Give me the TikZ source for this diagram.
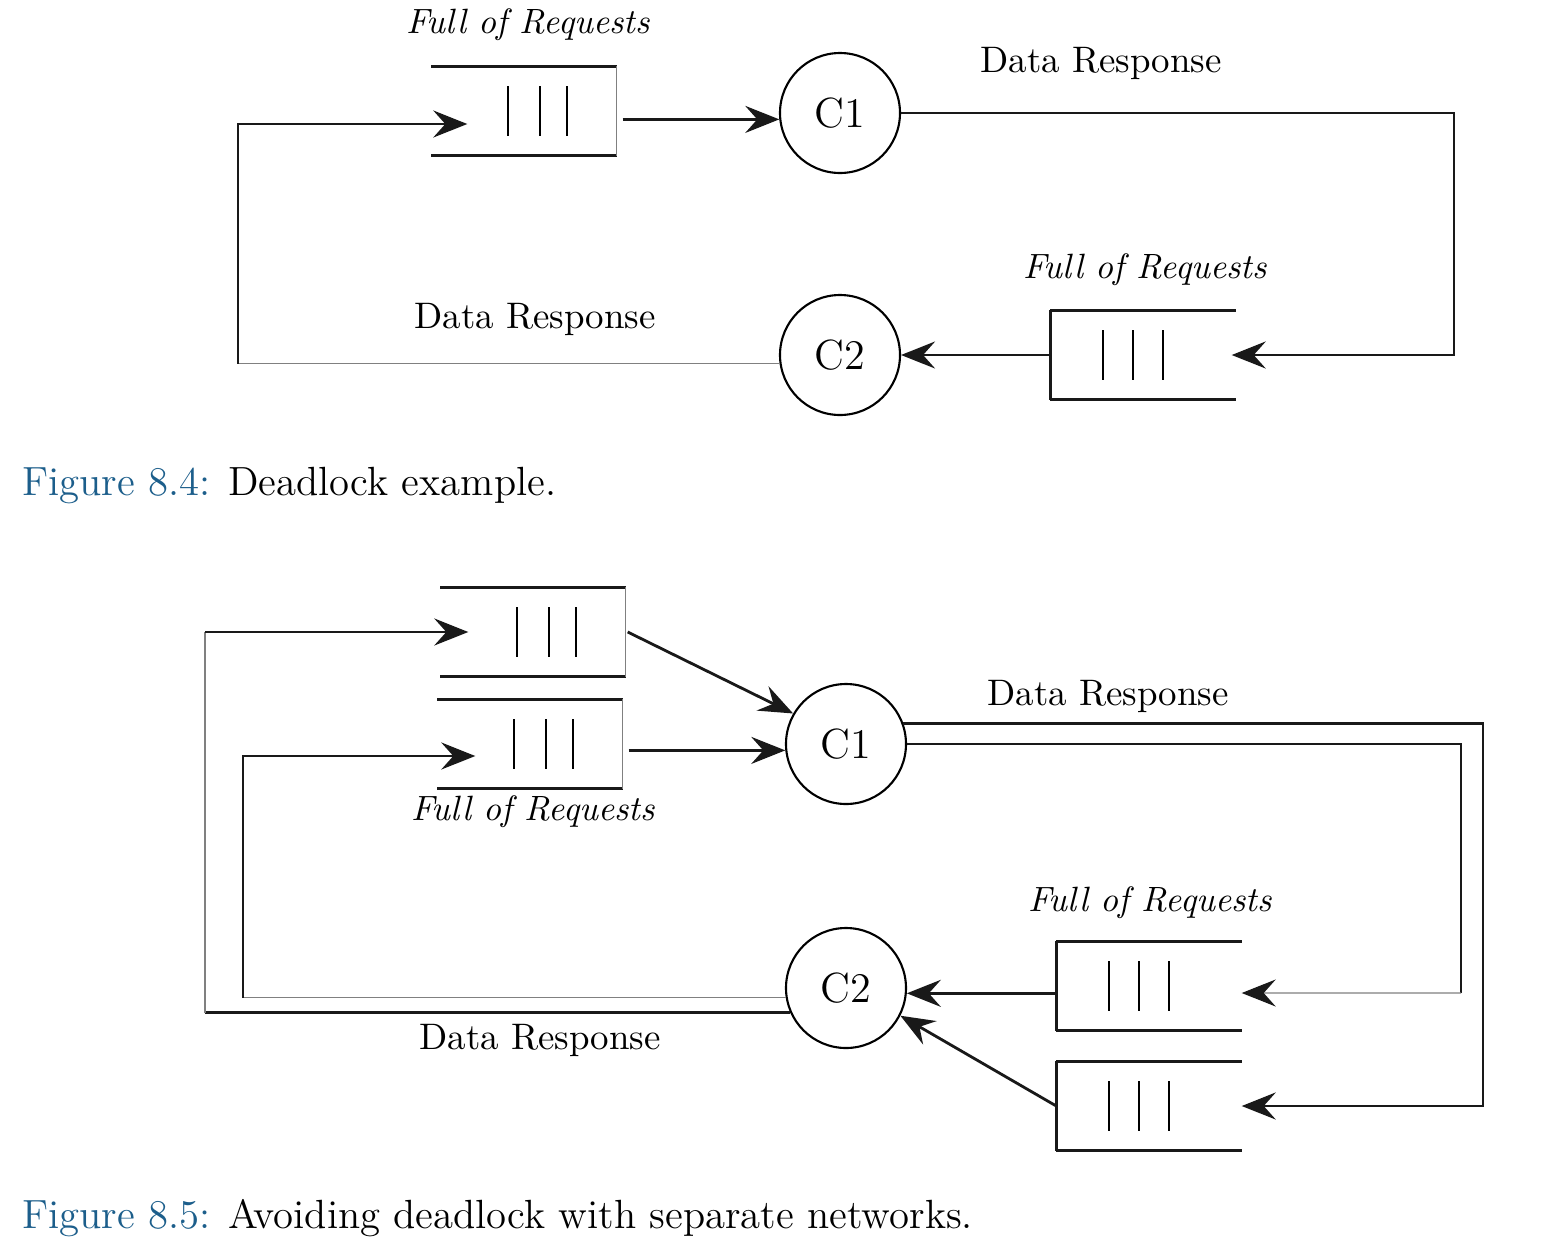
\documentclass[tikz,border=0pt]{standalone}
\usetikzlibrary{arrows.meta}
\definecolor{capblue}{RGB}{28,94,139}
\begin{document}
\begin{tikzpicture}[x=0.1mm,y=-0.1mm,line join=miter,>={Stealth[length=3.4mm,width=2.7mm,inset=1.2mm,black!90]}]
			\tikzset{ctrl/.style={circle,draw,line width=0.6pt,minimum size=12mm,inner sep=0pt,font=\fontsize{12}{14}\selectfont},
				queue/.style={minimum width=18.4mm,minimum height=8.8mm,inner sep=0pt},
				link/.style={line width=0.8pt,black!90},
				faint/.style={line width=0.35pt,black!50},
				req/.style={font=\fontsize{10}{12}\selectfont\itshape},
				resp/.style={font=\fontsize{10.5}{12}\selectfont},
				figcap/.style={anchor=base west,inner sep=0pt,font=\fontsize{11.6}{14}\selectfont}}
			\useasboundingbox (0,0) rectangle (1542,1248);
			% Figure 8.4
			\node[ctrl] (c1) at (840,113) {C1};
			\node[ctrl] (c2) at (840,355) {C2};
			\node[queue] (q1) at (524,111) {};
			\node[queue] (q2) at (1143,355) {};
			\node[req] (lq1) at (528,25) {Full of Requests};
			\node[req] (lq2) at (1145,270) {Full of Requests};
			\node[resp] (lr1) at (1101,63) {Data Response};
			\node[resp] (lr2) at (535,319) {Data Response};
			\coordinate (r1) at (1454,355);
			\coordinate (l1) at (238,363);
			\draw[link,->] ([xshift=0.6mm]q1.east |- c1.186) -- (c1.186);
			\draw[link,->] (c1.east) -| (r1) -- ([xshift=-0.4mm]q2.east);
			\draw[link,->] (q2.west) -- (c2.east);
			\draw[faint] (c2.188) -- (c2.188 -| l1);
			\draw[link,->] (c2.188 -| l1) |- ([xshift=3.6mm,yshift=-1.3mm]q1.west);
			% Figure 8.5
			\node[ctrl] (c1b) at (846,744) {C1};
			\node[ctrl] (c2b) at (846,988) {C2};
			\node[queue] (qa) at (533,632) {};
			\node[queue] (qb) at (530,744) {};
			\node[queue] (qc) at (1149,986) {};
			\node[queue] (qd) at (1149,1106) {};
			\node[req] (lqb) at (533,812) {Full of Requests};
			\node[req] (lqc) at (1150,903) {Full of Requests};
			\node[resp] (lr3) at (1108,696) {Data Response};
			\node[resp] (lr4) at (540,1040) {Data Response};
			\coordinate (ro) at (1483,1106);
			\coordinate (ri) at (1461,993);
			\coordinate (lo) at (205,1012);
			\coordinate (li) at (243,997);
			\draw[link,->] ([xshift=0.2mm]qa.east) -- (c1b.150);
			\draw[link,->] ([xshift=0.6mm]qb.east |- c1b.186) -- (c1b.186);
			\draw[link,->] (c1b.20) -| (ro) -- (qd.east);
			\draw[link] (c1b.east) -| (ri);
			\draw[faint,->] (ri) -- ([yshift=-0.7mm]qc.east);
			\draw[link,->] (qc.west |- c2b.355) -- (c2b.355);
			\draw[link,->] (qd.west) -- (c2b.-27);
			\draw[link] (c2b.204) -- (c2b.204 -| lo);
			\draw[faint] (c2b.204 -| lo) -- (lo |- qa.west);
			\draw[link,->] (lo |- qa.west) -- ([xshift=2.8mm]qa.west);
			\draw[faint] (c2b.189) -- (c2b.189 -| li);
			\draw[link,->] (c2b.189 -| li) |- ([xshift=3.8mm,yshift=-1.2mm]qb.west);
			% queue boxes
			\foreach \q in {q1,q2,qa,qb,qc,qd}{
				\draw[link] (\q.north west) -- (\q.north east);
				\draw[link] (\q.south west) -- (\q.south east);}
			\foreach \q in {q1,qa,qb}{
				\draw[faint] (\q.north east) -- (\q.south east);
				\foreach \dx/\w in {-16/0.8pt,16/0.45pt,43/0.8pt}
					\draw[line width=\w] ([xshift=\dx*0.1mm,yshift=2.5mm]\q.center) -- ++(0,50);}
			\foreach \q in {q2,qc,qd}{
				\draw[link] (\q.north west) -- (\q.south west);
				\foreach \dx/\w in {-40/0.8pt,-10/0.45pt,20/0.8pt}
					\draw[line width=\w] ([xshift=\dx*0.1mm,yshift=2.5mm]\q.center) -- ++(0,50);}
			% captions
			\node[figcap] (cap1) at (22,495) {\textcolor{capblue}{Figure 8.4:} Deadlock example.};
			\node[figcap] (cap2) at (22,1228) {\textcolor{capblue}{Figure 8.5:} Avoiding deadlock with separate networks.};
		\end{tikzpicture}
\end{document}
